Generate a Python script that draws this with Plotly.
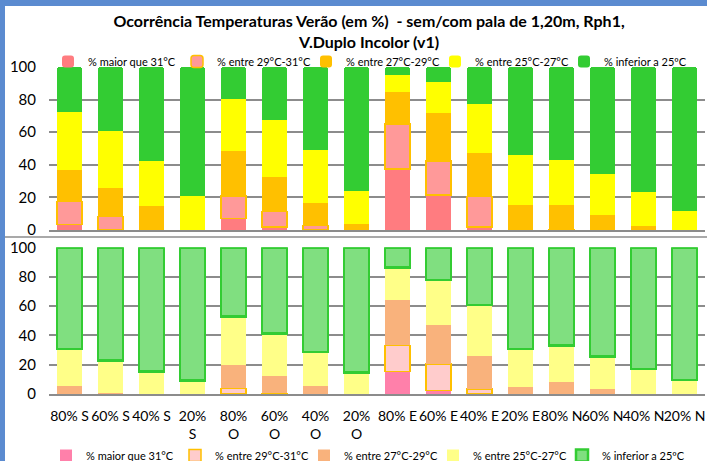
import plotly.graph_objects as go

# categorias (orientação / percentagem de envidraçado)
cats = ["80% S", "60% S", "40% S", "20%<br>S", "80%<br>O", "60%<br>O", "40%<br>O", "20%<br>O",
        "80% E", "60% E", "40% E", "20% E", "80% N", "60% N", "40% N", "20% N"]

series_names = ["% maior que 31°C", "% entre 29°C-31°C", "% entre 27°C-29°C",
                "% entre 25°C-27°C", "% inferior a 25ºC"]

# sem pala (painel de cima)
top_gt31 = [3.5, 0.3, 0, 0, 7.2, 2.0, 0.3, 0, 37.5, 21.5, 2.0, 0, 0, 0, 0, 0]
top_29_31 = [13.9, 7.9, None, None, 13.7, 9.3, 2.4, None, 27.5, 20.9, 18.5, None, 0.3, None, None, None]
top_27_29 = [19.5, 17.8, 15.0, 0, 27.7, 21.5, 14.1, 3.7, 19.4, 29.3, 27.0, 15.4, 15.1, 9.2, 2.7, 0]
top_25_27 = [35.8, 34.5, 27.6, 20.9, 31.9, 34.8, 32.4, 20.3, 10.9, 18.9, 29.8, 30.7, 27.6, 25.0, 20.9, 11.7]
top_lt25 = [27.3, 39.5, 57.4, 79.1, 19.5, 32.4, 50.8, 76.0, 4.7, 9.4, 22.7, 53.9, 57.0, 65.8, 76.4, 88.3]

# com pala (painel de baixo)
bot_gt31 = [0, 0, 0, 0, 0, 0, 0, 0, 15.3, 2.3, 0, 0, 0, 0, 0, 0]
bot_29_31 = [None, None, None, None, 3.9, 0.5, None, None, 17.8, 18.2, 3.4, None, None, None, None, None]
bot_27_29 = [5.7, 0.9, 0, 0, 16.0, 12.1, 5.3, 0, 30.8, 26.3, 22.2, 4.6, 8.0, 3.2, 0, 0]
bot_25_27 = [25.1, 21.9, 15.3, 9.1, 33.1, 28.5, 23.2, 14.8, 22.4, 30.8, 34.9, 26.2, 25.1, 22.4, 17.1, 9.6]
bot_lt25 = [69.2, 77.2, 84.7, 90.9, 47.0, 58.9, 71.5, 85.2, 13.7, 22.4, 39.5, 69.2, 66.9, 74.4, 82.9, 90.4]

top_colors = ["#FF7C80", "#FF9999", "#FFC000", "#FFFF00", "#33CC33"]
top_lines = [None, "#FFC000", None, None, None]
bot_colors = ["#FF80AA", "#FFCCCC", "#F9B27C", "#FFFF88", "#80DF80"]
bot_lines = [None, "#FFC000", None, None, "#33CC33"]

FONT = "Lato"
GRID = "#8C8C8C"

fig = go.Figure()

top_data = [top_gt31, top_29_31, top_27_29, top_25_27, top_lt25]
for i, (name, vals) in enumerate(zip(series_names, top_data)):
    line = dict(width=1.5, color=top_lines[i]) if top_lines[i] else dict(width=0)
    fig.add_trace(go.Bar(x=cats, y=vals, name=name, xaxis="x", yaxis="y",
                         marker=dict(color=top_colors[i], line=line, cornerradius=3),
                         legend="legend"))

bot_data = [bot_gt31, bot_29_31, bot_27_29, bot_25_27, bot_lt25]
for i, (name, vals) in enumerate(zip(series_names, bot_data)):
    w = 2.5 if i == 4 else 1.5
    line = dict(width=w, color=bot_lines[i]) if bot_lines[i] else dict(width=0)
    fig.add_trace(go.Bar(x=cats, y=vals, name=name, xaxis="x2", yaxis="y2",
                         marker=dict(color=bot_colors[i], line=line),
                         legend="legend2"))

yax = dict(range=[0, 100], dtick=20, showgrid=True, gridcolor=GRID, gridwidth=1.5,
           zeroline=False, tickfont=dict(size=15, color="black", family=FONT),
           ticklabelstandoff=12, fixedrange=True)

fig.update_layout(
    width=707, height=461,
    margin=dict(l=49, r=2, t=67, b=67, autoexpand=False),
    paper_bgcolor="white", plot_bgcolor="white",
    barmode="stack", bargap=0.39,
    font=dict(family=FONT, color="black"),
    title=dict(text="<b>Ocorrência Temperaturas Verão (em %)  - sem/com pala de 1,20m, Rph1,<br>V.Duplo Incolor (v1)</b>",
               x=0.522, xref="container", xanchor="center",
               y=1 - 27 / 461, yref="container", yanchor="top",
               font=dict(size=16, family=FONT, color="black")),
    xaxis=dict(domain=[0, 1], anchor="y", showticklabels=False, showline=True,
               linecolor=GRID, linewidth=1.5, ticks=""),
    xaxis2=dict(domain=[0, 1], anchor="y2", showline=True, linecolor=GRID, linewidth=1.5,
                ticks="", tickangle=0, ticklabelstandoff=8,
                tickfont=dict(size=14, color="black", family=FONT)),
    yaxis=dict(domain=[0.5015, 1], anchor="x", **yax),
    yaxis2=dict(domain=[0, 0.4486], anchor="x2", **yax),
    legend=dict(orientation="h", xref="container", yref="container",
                x=48 / 707, xanchor="left", y=1 - 47 / 461, yanchor="top",
                entrywidth=84, entrywidthmode="pixels", itemwidth=30,
                font=dict(size=11, family=FONT), bgcolor="rgba(0,0,0,0)",
                traceorder="normal"),
    legend2=dict(orientation="h", xref="container", yref="container",
                 x=46 / 707, xanchor="left", y=1 - 441 / 461, yanchor="top",
                 entrywidth=84, entrywidthmode="pixels", itemwidth=30,
                 font=dict(size=11, family=FONT), bgcolor="rgba(0,0,0,0)",
                 traceorder="normal"),
    showlegend=True,
)

# moldura do gráfico (borda azul e linha divisória entre os painéis)
fig.add_shape(type="rect", xref="paper", yref="paper", x0=-49 / 656, x1=-44 / 656,
              y0=-67 / 327, y1=394 / 327, fillcolor="#5B8BD0", line_width=0, layer="above")
fig.add_shape(type="rect", xref="paper", yref="paper", x0=-49 / 656, x1=660 / 656,
              y0=388 / 327, y1=394 / 327, fillcolor="#5B8BD0", line_width=0, layer="above")
fig.add_shape(type="line", xref="paper", yref="paper", x0=-44 / 656, x1=660 / 656,
              y0=157 / 327, y1=157 / 327, line=dict(color=GRID, width=1.5))

# a página não deve ter a margem padrão do body
fig.write_html("out.html", config={"displayModeBar": False},
               post_script="document.body.style.margin='0';")
